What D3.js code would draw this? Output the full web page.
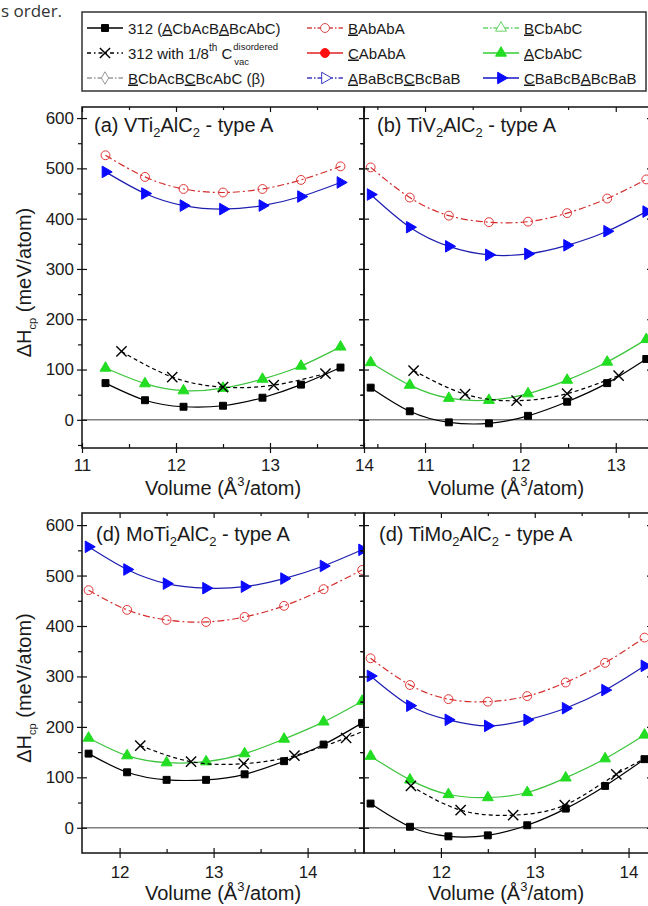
<!DOCTYPE html>
<html>
<head>
<meta charset="utf-8">
<script src="https://cdn.jsdelivr.net/npm/d3@7"></script>
<style>
	body { margin: 0; background: #fff; }
	svg { display: block; font-family: "Liberation Sans", Arial, sans-serif; }
</style>
</head>
<body>
<svg id="chart"></svg>
<script>
// volumes (A^3/atom) of the computed structures, one array per panel
const volA = [11.25, 11.67, 12.08, 12.5, 12.92, 13.33, 13.75];
const volB = [10.43, 10.84, 11.25, 11.67, 12.08, 12.49, 12.91, 13.32];
const volD = [11.67, 12.08, 12.5, 12.92, 13.33, 13.75, 14.17, 14.58];
const volE = [11.25, 11.67, 12.08, 12.5, 12.92, 13.33, 13.75, 14.17];

// (a) VTi2AlC2
const a312 = [73, 39, 26, 28, 44, 70, 104];
const aACb = [103, 72, 58, 63, 81, 107, 145];
const aBAb = [526, 483, 459, 452, 459, 477, 504];
const aCBa = [493, 450, 426, 419, 426, 444, 472];
const aVacV = [11.42, 11.96, 12.5, 13.04, 13.59];
const aVac = [136, 85, 65, 69, 92];

// (b) TiV2AlC2
const b312 = [64, 17, -5, -7, 8, 36, 73, 121];
const bACb = [114, 69, 43, 39, 52, 79, 115, 160];
const bBAb = [502, 442, 406, 393, 394, 411, 440, 478];
const bCBa = [448, 383, 345, 328, 330, 347, 375, 414];
const bVacV = [10.88, 11.42, 11.96, 12.49, 13.03];
const bVac = [98, 51, 38, 52, 88];

// (d) MoTi2AlC2
const d312 = [147, 110, 95, 95, 106, 132, 165, 208];
const dACb = [178, 143, 129, 131, 147, 176, 210, 251];
const dBAb = [471, 432, 412, 408, 418, 440, 473, 511];
const dCBa = [557, 512, 484, 475, 478, 494, 519, 551];
const dVacV = [12.22, 12.76, 13.32, 13.86, 14.41, 14.96];
const dVac = [163, 131, 127, 143, 178, 218];

// (d) TiMo2AlC2
const e312 = [48, 2, -17, -15, 5, 38, 83, 136];
const eACb = [142, 95, 66, 60, 70, 99, 137, 184];
const eBAb = [336, 283, 255, 250, 261, 288, 327, 377];
const eCBa = [301, 242, 214, 202, 214, 237, 273, 321];
const eVacV = [11.68, 12.21, 12.77, 13.32, 13.87, 14.42];
const eVac = [83, 35, 25, 45, 106, 160];

const yMajor = [0, 100, 200, 300, 400, 500, 600];
const yMinor = [-50, 50, 150, 250, 350, 450, 550];

var width = 648, height = 906;
var svg = d3.select("#chart").attr("width", width).attr("height", height);

const fmt = (v, ys) => v.map((d, i) => ({x: d, y: ys[i]}));

const panels = [
	{id: "a", title: ["(a) VTi", "2", "AlC", "2", " - type A"], xDom: [11, 14], yDom: [-56, 622],
		left: 82, right: 364, top: 107, bottom: 448, yLabels: true, lx: 94, ly: 132,
		series: {s312: fmt(volA, a312), acb: fmt(volA, aACb), bab: fmt(volA, aBAb), cba: fmt(volA, aCBa), vac: fmt(aVacV, aVac)}},
	{id: "b", title: ["(b) TiV", "2", "AlC", "2", " - type A"], xDom: [10.36, 13.38], yDom: [-56, 622],
		left: 364, right: 652, top: 107, bottom: 448, yLabels: false, lx: 377, ly: 132,
		series: {s312: fmt(volB, b312), acb: fmt(volB, bACb), bab: fmt(volB, bBAb), cba: fmt(volB, bCBa), vac: fmt(bVacV, bVac)}},
	{id: "d", title: ["(d) MoTi", "2", "AlC", "2", " - type A"], xDom: [11.6, 14.6], yDom: [-50, 624],
		left: 82, right: 364, top: 513, bottom: 853, yLabels: true, lx: 96, ly: 541,
		series: {s312: fmt(volD, d312), acb: fmt(volD, dACb), bab: fmt(volD, dBAb), cba: fmt(volD, dCBa), vac: fmt(dVacV, dVac)}},
	{id: "e", title: ["(d) TiMo", "2", "AlC", "2", " - type A"], xDom: [11.18, 14.25], yDom: [-50, 624],
		left: 364, right: 652, top: 513, bottom: 853, yLabels: false, lx: 379, ly: 541,
		series: {s312: fmt(volE, e312), acb: fmt(volE, eACb), bab: fmt(volE, eBAb), cba: fmt(volE, eCBa), vac: fmt(eVacV, eVac)}}
];

// line + marker styles
const styles = {
	bab:  {stroke: "#d42c2c", dash: "7,3,2,3", sym: "circle", fill: "none", mstroke: "#e03838"},
	cba:  {stroke: "#1e1eb0", dash: null, sym: "right", fill: "#0a0aff", mstroke: "#0a0aff"},
	acb:  {stroke: "#3cc43c", dash: null, sym: "up", fill: "#22dd22", mstroke: "#22dd22"},
	vac:  {stroke: "#000", dash: "4,3", sym: "x", fill: "none", mstroke: "#000"},
	s312: {stroke: "#000", dash: null, sym: "square", fill: "#000", mstroke: "#000"}
};

function symPath(kind) {
	if (kind == "square") return d3.symbol(d3.symbolSquare, 48)();
	if (kind == "up") return d3.symbol(d3.symbolTriangle, 52)();
	if (kind == "right") return d3.symbol(d3.symbolTriangle, 58)();
	if (kind == "circle") return d3.symbol(d3.symbolCircle, 62)();
	if (kind == "diamond") return d3.symbol(d3.symbolDiamond, 45)();
	if (kind == "x") return d3.symbol(d3.symbolX, 70)();
}

function addMarker(sel, kind, fill, stroke) {
	return sel.append("path")
		.attr("d", symPath(kind))
		.attr("fill", kind == "x" ? "none" : fill)
		.attr("stroke", stroke)
		.attr("stroke-width", kind == "x" ? 1.4 : 1)
		.attr("transform", d => kind == "right" ? "rotate(90)" : null);
}

function drawPanel(p) {
	const x = d3.scaleLinear().domain(p.xDom).range([p.left, p.right]);
	const y = d3.scaleLinear().domain(p.yDom).range([p.bottom, p.top]);
	const g = svg.append("g");

	svg.append("clipPath").attr("id", "clip-" + p.id)
		.append("rect").attr("x", p.left).attr("y", p.top)
		.attr("width", p.right - p.left).attr("height", p.bottom - p.top);

	g.append("line")
		.attr("x1", p.left).attr("x2", p.right)
		.attr("y1", y(0)).attr("y2", y(0))
		.attr("stroke", "#808080").attr("stroke-width", 1.5);

	const plot = g.append("g").attr("clip-path", "url(#clip-" + p.id + ")");
	const line = d3.line().x(d => x(d.x)).y(d => y(d.y)).curve(d3.curveNatural);

	["bab", "cba", "acb", "vac", "s312"].forEach(key => {
		const st = styles[key];
		const pts = p.series[key];
		plot.append("path")
			.attr("d", line(pts))
			.attr("fill", "none")
			.attr("stroke", st.stroke)
			.attr("stroke-width", 1.2)
			.attr("stroke-dasharray", st.dash);
		const m = plot.selectAll(null).data(pts).join("g")
			.attr("transform", d => `translate(${x(d.x)},${y(d.y)})`);
		addMarker(m, st.sym, st.fill, st.mstroke);
	});

	// axes
	const xMaj = d3.range(Math.ceil(p.xDom[0]), Math.floor(p.xDom[1] + 1e-9) + 1);
	const xMinor = d3.range(Math.floor(p.xDom[0]) + 0.5, p.xDom[1], 1).filter(v => v > p.xDom[0] + 0.05);
	const yMin = yMinor.filter(v => v > p.yDom[0] + 2);
	const pad = p.top > 300 ? 8 : 6;

	const bx = g.append("g").attr("transform", `translate(0,${p.bottom})`)
		.call(d3.axisBottom(x).tickValues(xMaj).tickSize(5).tickPadding(pad).tickFormat(d3.format("d")));
	bx.selectAll(".tick line").attr("y1", -5);
	g.append("g").attr("transform", `translate(0,${p.bottom})`)
		.call(d3.axisBottom(x).tickValues(xMinor).tickSize(-4).tickFormat(""));
	g.append("g").attr("transform", `translate(0,${p.top})`)
		.call(d3.axisTop(x).tickValues(xMaj).tickSize(-5).tickFormat(""));
	g.append("g").attr("transform", `translate(0,${p.top})`)
		.call(d3.axisTop(x).tickValues(xMinor).tickSize(-3).tickFormat(""));

	const ly = g.append("g").attr("transform", `translate(${p.left},0)`)
		.call(d3.axisLeft(y).tickValues(yMajor).tickSize(5).tickPadding(3)
			.tickFormat(p.yLabels ? d3.format("d") : ""));
	ly.selectAll(".tick line").attr("x1", 5);
	g.append("g").attr("transform", `translate(${p.left},0)`)
		.call(d3.axisLeft(y).tickValues(yMin).tickSize(4).tickFormat(""));
	g.append("g").attr("transform", `translate(${p.right},0)`)
		.call(d3.axisRight(y).tickValues(yMajor).tickSize(-5).tickFormat(""));
	g.append("g").attr("transform", `translate(${p.right},0)`)
		.call(d3.axisRight(y).tickValues(yMin).tickSize(-3).tickFormat(""));

	g.selectAll(".domain").remove();
	g.selectAll(".tick line").attr("stroke", "#111").attr("stroke-width", 1.2);
	g.selectAll(".tick text").attr("font-size", 17).attr("fill", "#1a1a1a")
		.attr("font-family", "Liberation Sans, Arial, sans-serif");

	g.append("rect")
		.attr("x", p.left).attr("y", p.top)
		.attr("width", p.right - p.left).attr("height", p.bottom - p.top)
		.attr("fill", "none").attr("stroke", "#111").attr("stroke-width", 1.5);

	// panel label
	const t = g.append("text").attr("x", p.lx).attr("y", p.ly)
		.attr("font-size", 20).attr("fill", "#1a1a1a");
	p.title.forEach((s, i) => {
		const sub = i % 2 == 1;
		t.append("tspan")
			.attr("font-size", sub ? 13 : 20)
			.attr("dy", sub ? 5 : (i > 0 ? -5 : 0))
			.text(s);
	});

	// x title
	const xt = g.append("text")
		.attr("x", (p.left + Math.min(p.right, width)) / 2)
		.attr("y", p.bottom + 47)
		.attr("text-anchor", "middle")
		.attr("font-size", 20).attr("fill", "#1a1a1a");
	xt.append("tspan").text("Volume (Å");
	xt.append("tspan").attr("font-size", 13).attr("dy", -9).text("3");
	xt.append("tspan").attr("dy", 9).text("/atom)");

	if (p.yLabels) {
		const cy = (p.top + p.bottom) / 2 + 5;
		const yt = g.append("text")
			.attr("transform", `translate(31,${cy}) rotate(-90)`)
			.attr("text-anchor", "middle")
			.attr("font-size", 20).attr("fill", "#1a1a1a");
		yt.append("tspan").text("ΔH");
		yt.append("tspan").attr("font-size", 11).attr("dy", 5).text("cp");
		yt.append("tspan").attr("dy", -5).text(" (meV/atom)");
	}
}

panels.forEach(drawPanel);

// tail of the caption line above the figure
svg.append("text").attr("x", 1).attr("y", 17)
	.attr("font-family", "Open Sans, sans-serif").attr("font-size", 17)
	.attr("fill", "#333").text("s order.");

// legend
const legend = svg.append("g");
legend.append("rect").attr("x", 82).attr("y", 12).attr("width", 564).attr("height", 79)
	.attr("fill", "#fff").attr("stroke", "#333").attr("stroke-width", 1.5);

const legendItems = [
	{col: 0, row: 0, stroke: "#000", dash: null, sym: "square", fill: "#000", mstroke: "#000",
		parts: [["312 (", 0], ["A", 1], ["CbAcB", 0], ["A", 1], ["BcAbC)", 0]]},
	{col: 0, row: 1, stroke: "#000", dash: "4,3,1.5,3", sym: "x", fill: "none", mstroke: "#000", vac: true},
	{col: 0, row: 2, stroke: "#9a9a9a", dash: "5,2,1.5,2", sym: "diamond", fill: "#fff", mstroke: "#9a9a9a",
		parts: [["B", 1], ["CbAcB", 0], ["C", 1], ["BcAbC (β)", 0]]},
	{col: 1, row: 0, stroke: "#d04848", dash: "5,2,1.5,2", sym: "circle", fill: "#fff", mstroke: "#d04848",
		parts: [["B", 1], ["AbAbA", 0]]},
	{col: 1, row: 1, stroke: "#e02020", dash: null, sym: "circle", fill: "#ff1010", mstroke: "#ff1010",
		parts: [["C", 1], ["AbAbA", 0]]},
	{col: 1, row: 2, stroke: "#3a3ac0", dash: "5,2,1.5,2", sym: "right", fill: "#fff", mstroke: "#3a3ac0",
		parts: [["A", 1], ["BaBcB", 0], ["C", 1], ["BcBaB", 0]]},
	{col: 2, row: 0, stroke: "#66d466", dash: "5,2,1.5,2", sym: "up", fill: "#fff", mstroke: "#66d466",
		parts: [["B", 1], ["CbAbC", 0]]},
	{col: 2, row: 1, stroke: "#33cc33", dash: null, sym: "up", fill: "#22dd22", mstroke: "#22dd22",
		parts: [["A", 1], ["CbAbC", 0]]},
	{col: 2, row: 2, stroke: "#1414c8", dash: null, sym: "right", fill: "#0a0aff", mstroke: "#0a0aff",
		parts: [["C", 1], ["BaBcB", 0], ["A", 1], ["BcBaB", 0]]}
];
const colX = [87, 307, 483];
const rowY = [28, 53, 78];

legendItems.forEach(it => {
	const x0 = colX[it.col], cy = rowY[it.row];
	legend.append("line").attr("x1", x0).attr("x2", x0 + 36).attr("y1", cy).attr("y2", cy)
		.attr("stroke", it.stroke).attr("stroke-width", 1.3).attr("stroke-dasharray", it.dash);
	const m = legend.append("g").attr("transform", `translate(${x0 + 18},${cy})`);
	addMarker(m, it.sym, it.fill, it.mstroke);

	const tx = x0 + 41, ty = cy + 5.5;
	const t = legend.append("text").attr("x", tx).attr("y", ty)
		.attr("font-size", 15).attr("fill", "#1a1a1a");
	if (it.vac) {
		t.append("tspan").text("312 with 1/8");
		t.append("tspan").attr("font-size", 10).attr("dy", -8).text("th");
		t.append("tspan").attr("dy", 8).text(" C");
		const w = t.node().getComputedTextLength();
		legend.append("text").attr("x", tx + w + 1).attr("y", ty - 9)
			.attr("font-size", 9.5).attr("fill", "#1a1a1a").text("disordered");
		legend.append("text").attr("x", tx + w + 2).attr("y", ty + 6)
			.attr("font-size", 9.5).attr("fill", "#1a1a1a").text("vac");
	} else {
		it.parts.forEach(pt => {
			t.append("tspan").attr("text-decoration", pt[1] ? "underline" : null).text(pt[0]);
		});
	}
});
</script>
</body>
</html>
